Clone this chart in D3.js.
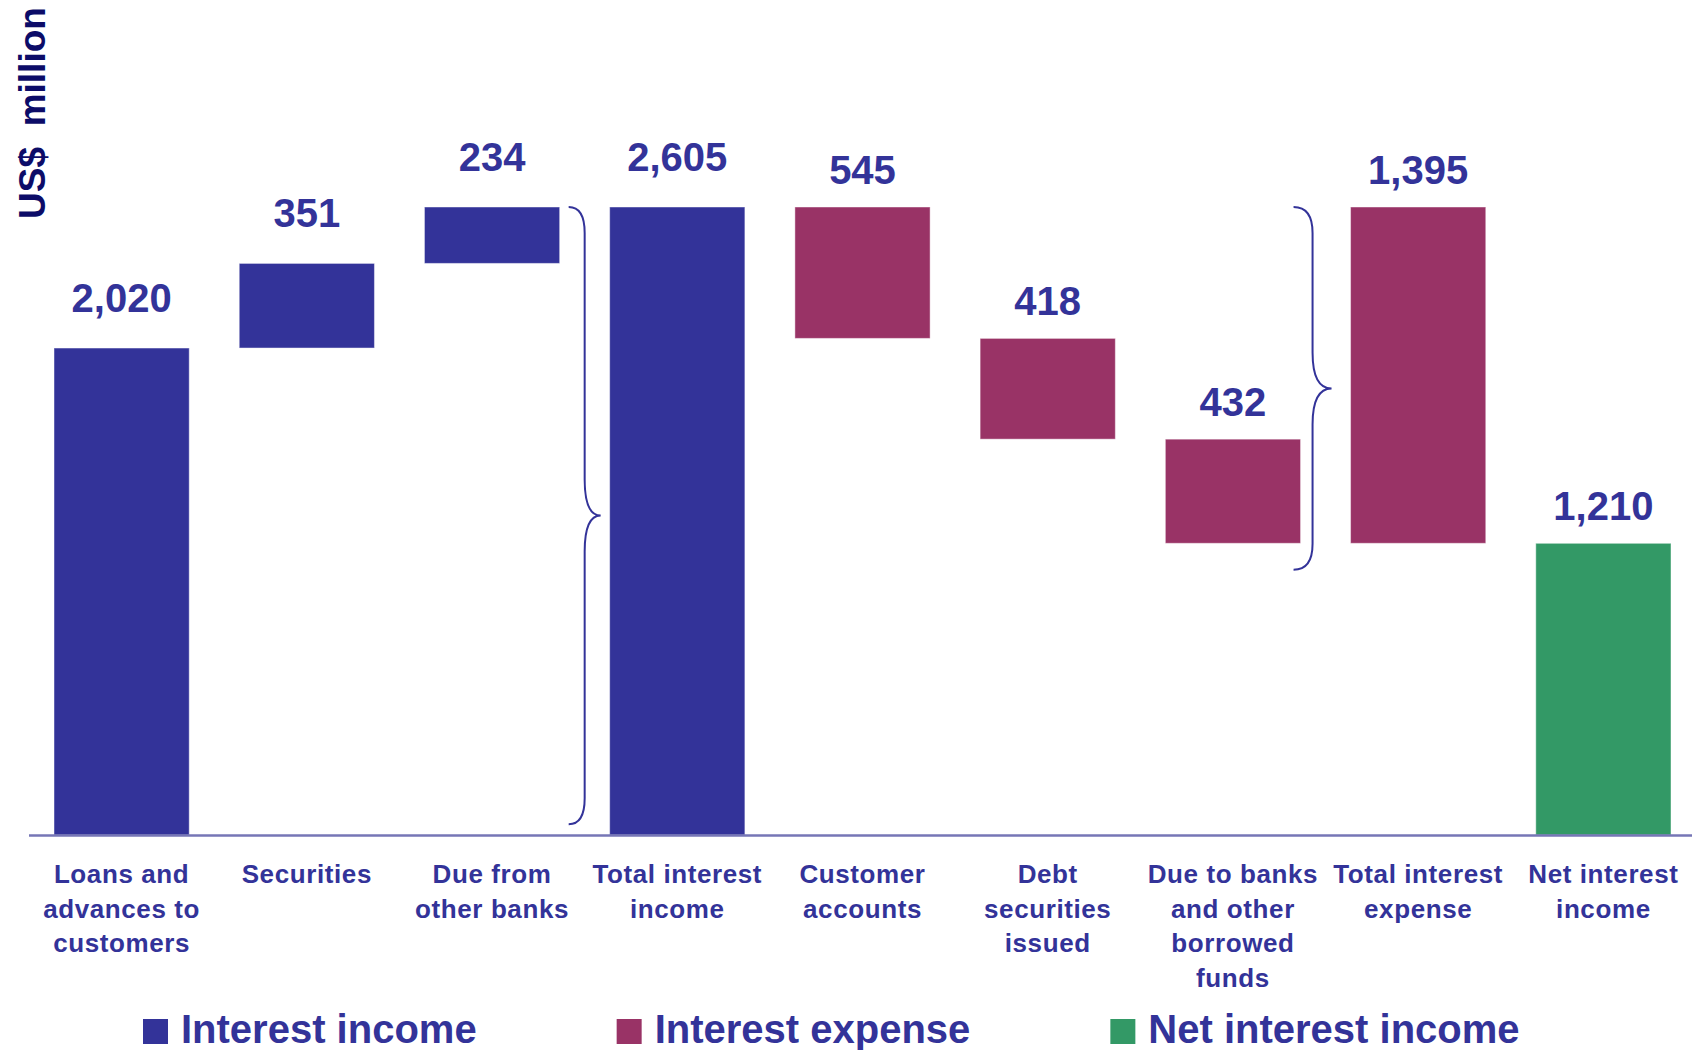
<!DOCTYPE html>
<html>
<head>
<meta charset="utf-8">
<script src="https://cdn.jsdelivr.net/npm/d3@7"></script>
<style>
  html, body { margin: 0; padding: 0; background: #fff; }
  svg { display: block; font-family: "Liberation Sans", Arial, sans-serif; font-weight: bold; }
</style>
</head>
<body>
<svg width="1692" height="1050"></svg>
<script>
// chart data
const categories = [
  'Loans and\nadvances to\ncustomers',
  'Securities',
  'Due from\nother banks',
  'Total interest\nincome',
  'Customer\naccounts',
  'Debt\nsecurities\nissued',
  'Due to banks\nand other\nborrowed\nfunds',
  'Total interest\nexpense',
  'Net interest\nincome'
];
const values = [2020, 351, 234, 2605, 545, 418, 432, 1395, 1210];
const kinds = ['income', 'income', 'income', 'income', 'expense', 'expense', 'expense', 'expense', 'net'];
const isTotal = [false, false, false, true, false, false, false, true, true];
const legendLabels = ['Interest income', 'Interest expense', 'Net interest income'];
const legendKinds = ['income', 'expense', 'net'];
// braces: index of bar on the left, and value span covered
const braceAfter = [2, 6];
const braceSpans = [[45, 2605], [1100, 2605]];

const colors = {income: '#333399', expense: '#993366', net: '#339966'};
const textColor = '#333399';

// running totals for the waterfall
let run = 0;
const bars = values.map((v, i) => {
  let lo, hi;
  if (!isTotal[i]) {
    if (kinds[i] === 'income') { lo = run; hi = run + v; run = hi; }
    else { hi = run; lo = run - v; run = lo; }
  } else if (kinds[i] === 'expense') {
    lo = run; hi = run + v;
  } else {
    lo = 0; hi = v;
  }
  return {i, name: categories[i], value: v, kind: kinds[i], lo, hi};
});

const svg = d3.select('svg');
const baseY = 835;

const x = d3.scaleBand()
  .domain(d3.range(categories.length))
  .range([29, 1696])
  .paddingInner(0.27)
  .paddingOuter(0.135);

const y = d3.scaleLinear()
  .domain([0, d3.max(bars, d => d.hi)])
  .range([baseY, 207]);

// bars
svg.append('g')
  .selectAll('rect')
  .data(bars)
  .enter()
  .append('rect')
  .attr('x', d => x(d.i))
  .attr('width', x.bandwidth())
  .attr('y', d => y(d.hi))
  .attr('height', d => y(d.lo) - y(d.hi))
  .attr('fill', d => colors[d.kind])
  .attr('stroke', 'rgba(255,255,255,0.45)')
  .attr('stroke-width', 1);

// baseline
svg.append('line')
  .attr('x1', 29).attr('x2', 1692)
  .attr('y1', baseY + 0.5).attr('y2', baseY + 0.5)
  .attr('stroke', '#7676b6')
  .attr('stroke-width', 2.5);

// value labels
svg.append('g')
  .selectAll('text')
  .data(bars)
  .enter()
  .append('text')
  .attr('x', d => x(d.i) + x.bandwidth() / 2)
  .attr('y', d => y(d.hi) - (d.kind === 'income' ? 36 : 23))
  .attr('text-anchor', 'middle')
  .attr('font-size', 40)
  .attr('fill', textColor)
  .text(d => d3.format(',')(d.value));

// category labels
const cat = svg.append('g')
  .selectAll('text')
  .data(bars)
  .enter()
  .append('text')
  .attr('text-anchor', 'middle')
  .attr('font-size', 26)
  .attr('letter-spacing', 0.6)
  .attr('fill', textColor);
cat.selectAll('tspan')
  .data(d => d.name.split('\n').map((t, k) => ({t, k, cx: x(d.i) + x.bandwidth() / 2})))
  .enter()
  .append('tspan')
  .attr('x', d => d.cx)
  .attr('y', d => 883 + d.k * 34.5)
  .text(d => d.t);

// curly braces
const braceLayout = [
  {x0: -41, xv: -25, xt: -9},
  {x0: -57, xv: -38, xt: -19}
];
braceAfter.forEach((b, k) => {
  const nx = x(b + 1);
  const L = braceLayout[k];
  const x0 = nx + L.x0, xv = nx + L.xv, xt = nx + L.xt;
  const yT = y(braceSpans[k][1]), yB = y(braceSpans[k][0]);
  const ym = (yT + yB) / 2;
  const r = 26, r2 = 36;
  const p = d3.path();
  p.moveTo(x0, yT);
  p.quadraticCurveTo(xv, yT, xv, yT + r);
  p.lineTo(xv, ym - r2);
  p.quadraticCurveTo(xv, ym, xt, ym);
  p.quadraticCurveTo(xv, ym, xv, ym + r2);
  p.lineTo(xv, yB - r);
  p.quadraticCurveTo(xv, yB, x0, yB);
  svg.append('path')
    .attr('d', p.toString())
    .attr('fill', 'none')
    .attr('stroke', textColor)
    .attr('stroke-width', 2);
});

// y axis title
svg.append('text')
  .attr('transform', 'translate(45,113) rotate(-90)')
  .attr('text-anchor', 'middle')
  .attr('font-size', 37)
  .attr('fill', '#0c0c68')
  .style('white-space', 'pre')
  .text('US$  million');

// legend
const legend = svg.append('g');
let lx = 143;
legendLabels.forEach((label, k) => {
  legend.append('rect')
    .attr('x', lx).attr('y', 1019)
    .attr('width', 25).attr('height', 25)
    .attr('fill', colors[legendKinds[k]]);
  const t = legend.append('text')
    .attr('x', lx + 38)
    .attr('y', 1043)
    .attr('font-size', 40)
    .attr('fill', textColor)
    .text(label);
  lx += 38 + t.node().getComputedTextLength() + 140;
});
</script>
</body>
</html>
